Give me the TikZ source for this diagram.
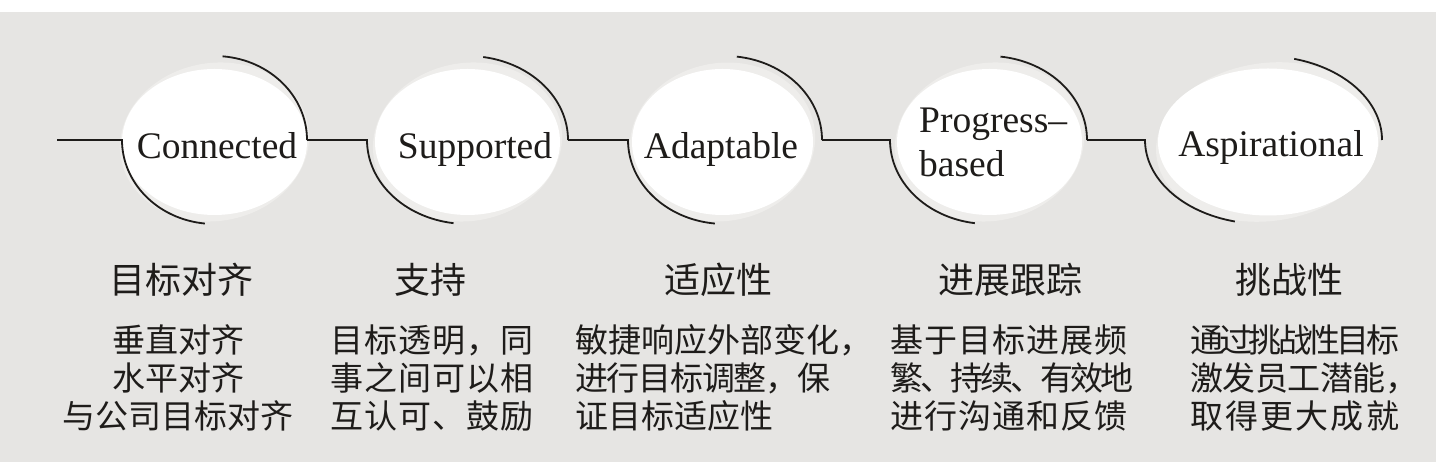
\documentclass[tikz,border=0pt]{standalone}
\usepackage{fontspec}
\setmainfont{Liberation Serif}
\newfontfamily\cjk{Noto Sans CJK SC}
\usetikzlibrary{shapes.geometric}
\definecolor{bg}{RGB}{230,229,227}
\definecolor{shade}{RGB}{238,237,235}
\definecolor{ink}{RGB}{30,28,26}
% per-character tracking: \trk{kern}{text}
\def\trkA#1{\ifx\relax#1\else#1\trkk\expandafter\trkA\fi}
\newcommand\trk[2]{\def\trkk{\kern#1}\trkA#2\relax}
\begin{document}
\begin{tikzpicture}[x=1pt,y=1pt,
  oval/.style={ellipse, fill=white, inner sep=0pt, draw=none},
  halo/.style={ellipse, fill=shade, inner sep=0pt, draw=none},
  lab/.style={font=\fontsize{37.5}{44}\selectfont, text=ink, inner sep=0pt, anchor=base},
  head/.style={font=\cjk\fontsize{36}{40}\selectfont, text=ink, inner sep=0pt},
  body/.style={font=\cjk\fontsize{33}{38}\selectfont, text=ink, inner sep=0pt},
  wire/.style={draw=ink, line width=1.8pt}]
\useasboundingbox (0,0) rectangle (1442,462);
\fill[bg] (0,0) rectangle (1436,450);

% soft halos
\node[halo, minimum width=190pt, minimum height=158pt, rotate=10] (g1) at (214.5,320) {};
\node[halo, minimum width=190pt, minimum height=158pt, rotate=10] (g2) at (467.5,320) {};
\node[halo, minimum width=186pt, minimum height=158pt, rotate=10] (g3) at (722.5,320) {};
\node[halo, minimum width=190pt, minimum height=158pt, rotate=10] (g4) at (989.5,320) {};
\node[halo, minimum width=225pt, minimum height=158pt, rotate=8] (g5) at (1268,320) {};

% white ellipses
\node[oval, minimum width=185pt, minimum height=146pt] (o1) at (214.5,320) {};
\node[oval, minimum width=185pt, minimum height=146pt] (o2) at (467.5,320) {};
\node[oval, minimum width=181pt, minimum height=146pt] (o3) at (722.5,320) {};
\node[oval, minimum width=185pt, minimum height=146pt] (o4) at (989.5,320) {};
\node[oval, minimum width=220pt, minimum height=147pt] (o5) at (1268,320) {};

% junction points
\coordinate (s0) at (57,322);
\coordinate (l1) at (122,322);  \coordinate (r1) at (307,322);
\coordinate (l2) at (367,322);  \coordinate (r2) at (568,322);
\coordinate (l3) at (628,322);  \coordinate (r3) at (822,322);
\coordinate (l4) at (890,322);  \coordinate (r4) at (1087,322);
\coordinate (l5) at (1145,322); \coordinate (r5) at (1382,322);

% upper-right arcs
\draw[wire] (r1) arc[start angle=0, end angle=85, x radius=92.5pt, y radius=84pt];
\draw[wire] (r2) arc[start angle=0, end angle=81, x radius=100.5pt, y radius=84pt];
\draw[wire] (r3) arc[start angle=0, end angle=83, x radius=97pt, y radius=84pt];
\draw[wire] (r4) arc[start angle=0, end angle=83, x radius=98.5pt, y radius=84pt];
\draw[wire] (r5) arc[start angle=0, end angle=75, x radius=118.5pt, y radius=84pt];

% connectors with lower-left arcs
\draw[wire] (s0) -- (l1) arc[start angle=180, end angle=264, x radius=92.5pt, y radius=84pt];
\draw[wire] (r1) -- (l2) arc[start angle=180, end angle=262, x radius=100.5pt, y radius=84pt];
\draw[wire] (r2) -- (l3) arc[start angle=180, end angle=264, x radius=97pt, y radius=84pt];
\draw[wire] (r3) -- (l4) arc[start angle=180, end angle=262, x radius=98.5pt, y radius=84pt];
\draw[wire] (r4) -- (l5) arc[start angle=180, end angle=256, x radius=118.5pt, y radius=84pt];

% English labels
\node[lab] (t1) at (217,303) {Connected};
\node[lab] (t2) at (475,303) {Supported};
\node[lab] (t3) at (721,303) {Adaptable};
\node[lab, anchor=base west] (t4a) at (919,329) {Progress–};
\node[lab, anchor=base west] (t4b) at (919,285) {based};
\node[lab] (t5) at (1271,305) {Aspirational};

% Chinese headings
\node[head] (h1) at (181,182) {目标对齐};
\node[head] (h2) at (430,182) {支持};
\node[head] (h3) at (718,182) {适应性};
\node[head] (h4) at (1010,182) {进展跟踪};
\node[head] (h5) at (1289,182) {挑战性};

% Chinese descriptions
\node[body, align=center] (b1) at (178,84) {垂直对齐\\水平对齐\\与公司目标对齐};
\node[body, align=left, anchor=west] (b2) at (330,84) {\trk{1pt}{目标透明，同}\\\trk{1pt}{事之间可以相}\\\trk{1pt}{互认可、鼓励}};
\node[body, align=left, anchor=west] (b3) at (575,84) {敏捷响应外部变化，\\\trk{-1.3pt}{进行目标调整，保}\\证目标适应性};
\node[body, align=left, anchor=west] (b4) at (890,84) {\trk{1pt}{基于目标进展频}\\\trk{-3pt}{繁、持续、有效地}\\\trk{1pt}{进行沟通和反馈}};
\node[body, align=left, anchor=west] (b5) at (1190,84) {\trk{-3.7pt}{通过挑战性目标}\\\trk{-0.5pt}{激发员工潜能，}\\\trk{2.2pt}{取得更大成就}};
\end{tikzpicture}
\end{document}
